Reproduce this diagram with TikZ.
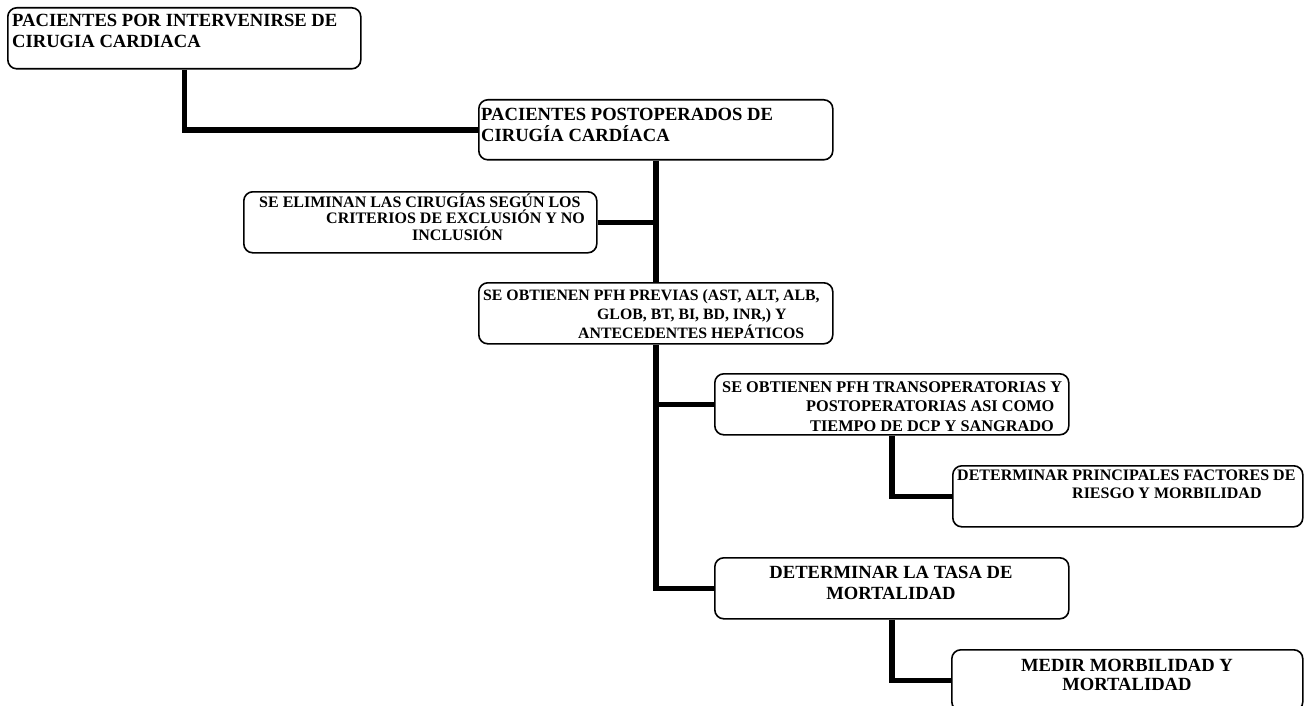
\documentclass[tikz,border=0pt]{standalone}
\usepackage{fontspec}
\setmainfont{Liberation Serif}
\tikzset{
  box/.style={draw=black, line width=1.6pt, rounded corners=9pt, fill=white, inner sep=0pt, anchor=north west},
  txt/.style={inner sep=0pt, anchor=base west},
  ctxt/.style={inner sep=0pt, anchor=base},
  conn/.style={draw=black, line width=5.5pt, line join=miter},
}
\newcommand\bigf{\bfseries\fontsize{18.6}{21}\selectfont}
\newcommand\midf[1]{\bfseries\fontsize{#1}{#1}\selectfont}
\begin{document}
\begin{tikzpicture}[x=1pt,y=-1pt]
\useasboundingbox (0,0) rectangle (1304,706);
\clip (0,0) rectangle (1304,706);
% boxes
\node[box, minimum width=353pt, minimum height=61pt] (A) at (7,7) {};
\node[box, minimum width=354pt, minimum height=60pt] (B) at (478,99) {};
\node[box, minimum width=353pt, minimum height=61pt] (C) at (243,191) {};
\node[box, minimum width=354pt, minimum height=61pt] (D) at (478,282) {};
\node[box, minimum width=354pt, minimum height=61pt] (E) at (714,373) {};
\node[box, minimum width=350pt, minimum height=61pt] (F) at (952,465) {};
\node[box, minimum width=354pt, minimum height=61pt] (G) at (714,557) {};
\node[box, minimum width=351pt, minimum height=61pt] (H) at (951,649) {};
% connectors
\draw[conn] (A.south) |- (B.west);
\draw[conn] (B.south) -- (D.north);
\draw[conn] (D.south) |- (G.west);
\draw[conn] (C.east) -- (C.east -| B.south);
\draw[conn] (D.south |- E.west) -- (E.west);
\draw[conn] (E.south) |- (F.west);
\draw[conn] (G.south) |- (H.west);
% texts
\node[txt, font=\bigf] (At) at (12,27) {\vtop{\baselineskip=21pt\lineskiplimit=-50pt
  \hbox{PACIENTES POR INTERVENIRSE DE}\hbox{CIRUGIA CARDIACA}}};
\node[txt, font=\bigf] (Bt) at (481,121) {\vtop{\baselineskip=21pt\lineskiplimit=-50pt
  \hbox{PACIENTES POSTOPERADOS DE}\hbox{CIRUGÍA CARDÍACA}}};
\node[txt, font=\midf{16}] (Ct) at (259,207) {\vtop{\baselineskip=16.5pt\lineskiplimit=-50pt
  \hbox{SE ELIMINAN LAS CIRUGÍAS SEGÚN LOS}\hbox{\hspace*{67pt}CRITERIOS DE EXCLUSIÓN Y NO}\hbox{\hspace*{153pt}INCLUSIÓN}}};
\node[txt, font=\midf{15.8}] (Dt) at (483,300) {\vtop{\baselineskip=19pt\lineskiplimit=-50pt
  \hbox{SE OBTIENEN PFH PREVIAS (AST, ALT, ALB,}\hbox{\hspace*{114pt}GLOB, BT, BI, BD, INR,) Y}\hbox{\hspace*{95pt}ANTECEDENTES HEPÁTICOS}}};
\node[txt, font=\midf{16.3}] (Et) at (722,392) {\vtop{\baselineskip=19.5pt\lineskiplimit=-50pt
  \hbox{SE OBTIENEN PFH TRANSOPERATORIAS Y}\hbox{\hspace*{84pt}POSTOPERATORIAS ASI COMO}\hbox{\hspace*{88pt}TIEMPO DE DCP Y SANGRADO}}};
\node[txt, font=\midf{16}] (Ft) at (957,480) {\vtop{\baselineskip=18.5pt\lineskiplimit=-50pt
  \hbox{DETERMINAR PRINCIPALES FACTORES DE}\hbox{\hspace*{115pt}RIESGO Y MORBILIDAD}}};
\node[ctxt, font=\bigf] (Gt) at (891,578) {\vtop{\baselineskip=21.5pt\lineskiplimit=-50pt
  \hbox to 0pt{\hss DETERMINAR LA TASA DE\hss}\hbox to 0pt{\hss MORTALIDAD\hss}}};
\node[ctxt, font=\bigf] (Ht) at (1127,671) {\vtop{\baselineskip=19pt\lineskiplimit=-50pt
  \hbox to 0pt{\hss MEDIR MORBILIDAD Y\hss}\hbox to 0pt{\hss MORTALIDAD\hss}}};
\end{tikzpicture}
\end{document}
